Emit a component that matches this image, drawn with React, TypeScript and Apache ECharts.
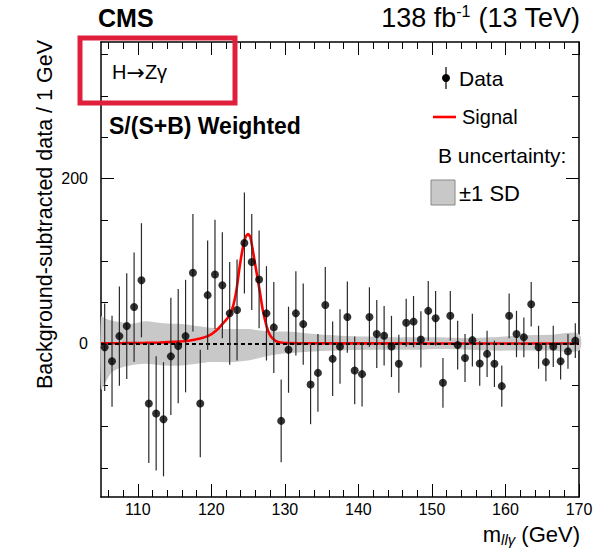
import React, { useEffect, useRef } from "react";
import * as echarts from "echarts";

// ---- Data ----
const massBins = [
  105.5, 106.5, 107.5, 108.5, 109.5, 110.5, 111.5, 112.5, 113.5, 114.5,
  115.5, 116.5, 117.5, 118.5, 119.5, 120.5, 121.5, 122.5, 123.5, 124.5,
  125.5, 126.5, 127.5, 128.5, 129.5, 130.5, 131.5, 132.5, 133.5, 134.5,
  135.5, 136.5, 137.5, 138.5, 139.5, 140.5, 141.5, 142.5, 143.5, 144.5,
  145.5, 146.5, 147.5, 148.5, 149.5, 150.5, 151.5, 152.5, 153.5, 154.5,
  155.5, 156.5, 157.5, 158.5, 159.5, 160.5, 161.5, 162.5, 163.5, 164.5,
  165.5, 166.5, 167.5, 168.5, 169.5,
];
const dataValues = [
  -4, -21, 9.5, 21.6, 44.6, 77, -72, -84, -91, -15,
  -2.6, 9.5, 86, -72, 59, 84, 71, 37, 41, 122,
  99, 78, 37, 20, -93, -7, 37, 24, -49, -35,
  47, -18, -3, 32.5, -32, -36.5, 32.5, 12, 10, -3,
  -24, 25.6, 27, 5.4, 40, 31, -47, 34, -1.4, -17,
  4.6, -23.6, -12, -24, -51, 34, 12, 8, 48, -4,
  -22, -3, -21, -9, 4,
];
const dataErrors = [
  53, 55, 60, 64, 66, 69, 72, 69, 69, 71,
  69, 68, 71, 65, 66, 66, 64, 62, 61, 61,
  58, 59, 57, 55, 50, 52, 51, 49, 48, 47,
  46, 45, 45, 43, 41, 39, 36, 41, 36, 37,
  35, 29, 31, 34, 36, 33, 30, 30, 29.5, 29,
  32, 27, 28, 28, 25, 27, 28, 24, 27, 26,
  23, 25, 22, 21, 21,
];

const signalX = [
  105, 108, 111, 113, 115, 116.5, 117.5, 118.5, 119.5, 120.2,
  121, 121.6, 122.2, 122.6, 123, 123.4, 123.85, 124.3, 124.65, 125,
  125.3, 125.65, 126.1, 126.6, 127, 127.5, 127.9, 128.3, 128.8, 129.4,
  130.5, 133, 140, 150, 160, 170,
];
const signalY = [
  0.8, 1, 1.3, 1.8, 2.5, 3.5, 4.8, 6.5, 9.5, 13,
  19, 25, 31, 37, 47, 64, 93, 117, 129, 133,
  129, 113, 89, 63, 41, 22, 12, 7, 3.5, 1.8,
  1, 0.8, 0.7, 0.6, 0.5, 0.5,
];

const bandX = [105, 105.5, 106.5, 108, 109, 111, 113.5, 116, 119.5, 122.5, 125, 128, 130.5, 134, 137.5, 141, 144.5, 148, 151, 155, 158, 162, 166, 170];
const bandUpper = [33, 31, 28, 26, 24, 27.5, 25, 24, 20, 18, 18, 15, 15, 12, 10, 9, 8, 8, 8, 7, 8, 10, 11, 12];
const bandLower = [-55, -48, -34, -28, -26, -24, -26, -26, -22, -22, -20, -14, -11, -9, -8, -7, -7, -7, -6, -7, -8, -8, -8, -8];

const xMajorTicks = [110, 120, 130, 140, 150, 160, 170];
const xMinorTicks = [106, 108, 112, 114, 116, 118, 122, 124, 126, 128, 132, 134, 136, 138, 142, 144, 146, 148, 152, 154, 156, 158, 162, 164, 166, 168];
const yMajorTicks = [0, 200];
const yMinorTicks = [-150, -100, -50, 50, 100, 150, 250, 300, 350];

const X_MIN = 105;
const X_MAX = 170;
const Y_MIN = -185;
const Y_MAX = 365;

const FONT = "'Liberation Sans', Arial, Helvetica, sans-serif";

function txt(x: number, y: number, text: string, size: number, opts: any = {}) {
  return {
    type: "text",
    x,
    y,
    rotation: opts.rotation || 0,
    z: 100,
    style: {
      text,
      fontSize: size,
      fontFamily: FONT,
      fontWeight: opts.bold ? "bold" : "normal",
      fill: opts.color || "#000",
      align: opts.align || "left",
      textAlign: opts.align || "left",
      verticalAlign: "middle",
      textVerticalAlign: "middle",
      rich: opts.rich,
    },
  };
}

export default function App() {
  const ref = useRef<HTMLDivElement>(null);

  useEffect(() => {
    const chart = echarts.init(ref.current as HTMLDivElement, null, { renderer: "svg" });

    const axisLineStyle = { color: "#000", width: 1.5 };
    const mkX = (position: string, major: boolean, labels: boolean) => ({
      type: "value",
      min: X_MIN,
      max: X_MAX,
      position,
      splitLine: { show: false },
      axisLine: { show: major, onZero: false, lineStyle: axisLineStyle },
      axisTick: {
        show: true,
        inside: true,
        length: major ? 13 : 7,
        customValues: major ? xMajorTicks : xMinorTicks,
        lineStyle: { color: "#000", width: 1 },
      },
      axisLabel: {
        show: labels,
        customValues: xMajorTicks,
        margin: 4,
        fontSize: 16,
        color: "#000",
        fontFamily: FONT,
      },
    });
    const mkY = (position: string, major: boolean, labels: boolean) => ({
      type: "value",
      min: Y_MIN,
      max: Y_MAX,
      position,
      splitLine: { show: false },
      axisLine: { show: major, onZero: false, lineStyle: axisLineStyle },
      axisTick: {
        show: true,
        inside: true,
        length: major ? 13 : 7,
        customValues: major ? yMajorTicks : yMinorTicks,
        lineStyle: { color: "#000", width: 1 },
      },
      axisLabel: {
        show: labels,
        customValues: yMajorTicks,
        margin: 13,
        fontSize: 16,
        color: "#000",
        fontFamily: FONT,
      },
    });

    const option: any = {
      animation: false,
      backgroundColor: "#fff",
      grid: { left: 101, right: 23, top: 42, bottom: 53, containLabel: false, outerBoundsMode: "none" },
      xAxis: [mkX("bottom", true, true), mkX("bottom", false, false), mkX("top", true, false), mkX("top", false, false)],
      yAxis: [mkY("left", true, true), mkY("left", false, false), mkY("right", true, false), mkY("right", false, false)],
      series: [
        {
          type: "custom",
          name: "band",
          silent: true,
          z: 1,
          xAxisIndex: 0,
          yAxisIndex: 0,
          data: [[X_MIN, 0]],
          renderItem: (_params: any, api: any) => {
            const pts: number[][] = [];
            for (let i = 0; i < bandX.length; i++) pts.push(api.coord([bandX[i], bandUpper[i]]));
            for (let i = bandX.length - 1; i >= 0; i--) pts.push(api.coord([bandX[i], bandLower[i]]));
            return { type: "polygon", shape: { points: pts, smooth: 0.3 }, style: { fill: "#c8c8c8", stroke: "none" } };
          },
        },
        {
          type: "line",
          name: "Signal",
          z: 3,
          xAxisIndex: 0,
          yAxisIndex: 0,
          showSymbol: false,
          smooth: 0.25,
          data: signalX.map((x, i) => [x, signalY[i]]),
          lineStyle: { color: "#ff0000", width: 2.6 },
        },
        {
          type: "line",
          name: "zero",
          z: 4,
          xAxisIndex: 0,
          yAxisIndex: 0,
          showSymbol: false,
          data: [[X_MIN, 0], [X_MAX, 0]],
          lineStyle: { color: "#000", width: 2, type: [4, 3] },
        },
        {
          type: "custom",
          name: "errors",
          z: 5,
          xAxisIndex: 0,
          yAxisIndex: 0,
          encode: { x: 0, y: 1 },
          data: massBins.map((x, i) => [x, dataValues[i], dataErrors[i]]),
          renderItem: (_params: any, api: any) => {
            const x = api.value(0);
            const y = api.value(1);
            const e = api.value(2);
            const p1 = api.coord([x, y - e]);
            const p2 = api.coord([x, y + e]);
            return {
              type: "line",
              shape: { x1: p1[0], y1: p1[1], x2: p2[0], y2: p2[1] },
              style: { stroke: "#2a2a2a", lineWidth: 1.2 },
            };
          },
        },
        {
          type: "scatter",
          name: "Data",
          z: 6,
          xAxisIndex: 0,
          yAxisIndex: 0,
          symbol: "circle",
          symbolSize: 8,
          itemStyle: { color: "#000" },
          data: massBins.map((x, i) => [x, dataValues[i]]),
        },
      ],
      graphic: [
        txt(98, 18, "CMS", 25, { bold: true }),
        txt(580, 18, "{a|138 fb}{s|-1}{a| (13 TeV)}", 27, {
          align: "right",
          rich: {
            a: { fontSize: 27, fontFamily: FONT, fill: "#000", lineHeight: 30 },
            s: { fontSize: 16, fontFamily: FONT, fill: "#000", verticalAlign: "top", lineHeight: 30 },
          },
        }),
        {
          type: "rect",
          z: 100,
          shape: { x: 80, y: 38, width: 155, height: 65 },
          style: { fill: "none", stroke: "#e01f3d", lineWidth: 5 },
        },
        txt(112, 72, "{a|H}{r|\u2192}{a|Z\u03b3}", 20, {
          rich: {
            a: { fontSize: 20, fontFamily: FONT, fill: "#000" },
            r: { fontSize: 22, fontFamily: "'DejaVu Sans'", fill: "#000" },
          },
        }),
        txt(109, 126, "S/(S+B) Weighted", 23, { bold: true }),
        {
          type: "line",
          z: 100,
          shape: { x1: 446, y1: 67, x2: 446, y2: 89 },
          style: { stroke: "#000", lineWidth: 1.2 },
        },
        { type: "circle", z: 100, shape: { cx: 446, cy: 78, r: 4 }, style: { fill: "#000" } },
        txt(459, 78, "Data", 21),
        {
          type: "line",
          z: 100,
          shape: { x1: 433, y1: 117, x2: 456, y2: 117 },
          style: { stroke: "#ff0000", lineWidth: 2.6 },
        },
        txt(462, 117, "Signal", 20),
        txt(438, 155, "B uncertainty:", 21),
        {
          type: "rect",
          z: 100,
          shape: { x: 431, y: 180, width: 24, height: 25 },
          style: { fill: "#c8c8c8", stroke: "#888", lineWidth: 1 },
        },
        txt(459, 193, "\u00b11 SD", 22),
        txt(45, 40, "Background-subtracted data / 1 GeV", 21.5, { rotation: Math.PI / 2, align: "right" }),
        txt(580, 534, "{a|m}{b|ll\u03b3}{a| (GeV)}", 22, {
          align: "right",
          rich: {
            a: { fontSize: 22, fontFamily: FONT, fill: "#000", lineHeight: 26 },
            b: { fontSize: 15, fontFamily: FONT, fontStyle: "italic", fill: "#000", verticalAlign: "bottom", lineHeight: 26 },
          },
        }),
      ],
    };

    chart.setOption(option);
    return () => chart.dispose();
  }, []);

  return (
    <div
      ref={ref}
      style={{ position: "fixed", left: 0, top: 0, width: 602, height: 550, background: "#fff" }}
    />
  );
}
